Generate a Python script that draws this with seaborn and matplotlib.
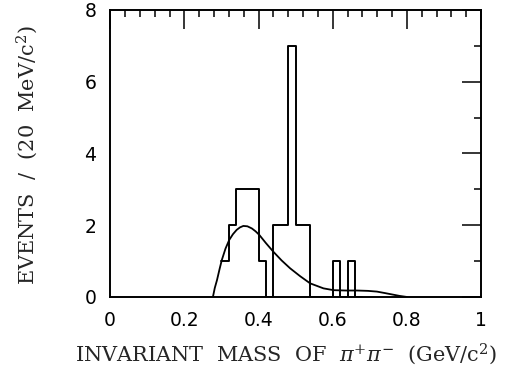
import numpy as np
import matplotlib
matplotlib.use("Agg")
import matplotlib.pyplot as plt
import seaborn as sns
from matplotlib.ticker import MultipleLocator, FuncFormatter

# histogram: centre of each 20 MeV bin and its event count
bin_center = [0.31, 0.33, 0.35, 0.37, 0.39, 0.41, 0.45, 0.47, 0.49, 0.51, 0.53, 0.61, 0.65]
counts = [1, 2, 3, 3, 3, 1, 2, 2, 7, 2, 2, 1, 1]

# smooth curve
curve_x = [0.277, 0.282, 0.288, 0.295, 0.301, 0.311, 0.321, 0.331, 0.341, 0.350, 0.359,
           0.370, 0.382, 0.392, 0.402, 0.420, 0.440, 0.462, 0.485, 0.512, 0.539,
           0.575, 0.602, 0.635, 0.665, 0.695, 0.719, 0.740, 0.755, 0.780, 0.800]
curve_y = [0.0, 0.25, 0.47, 0.78, 1.03, 1.35, 1.59, 1.75, 1.87, 1.94, 1.98,
           1.97, 1.91, 1.83, 1.73, 1.50, 1.26, 1.02, 0.80, 0.58, 0.38,
           0.24, 0.19, 0.18, 0.18, 0.17, 0.15, 0.11, 0.08, 0.03, 0.0]

sns.set_theme(style="white")
plt.rcParams["font.family"] = ["DejaVu Serif"]
plt.rcParams["mathtext.fontset"] = "dejavuserif"

fig = plt.figure(figsize=(5.27, 3.68), dpi=100)
ax = fig.add_axes([0.209, 0.193, 0.704, 0.780])

# extra empty bin at the end so the last step drops back to zero
sns.histplot(x=bin_center, weights=counts, binwidth=0.02, binrange=(0.30, 0.68),
             element="step", fill=False, color="black", linewidth=1.4, ax=ax)
sns.lineplot(x=curve_x, y=curve_y, color="black", linewidth=1.3, ax=ax)

ax.set_xlim(0, 1)
ax.set_ylim(0, 8)
ax.xaxis.set_major_locator(MultipleLocator(0.2))
ax.xaxis.set_minor_locator(MultipleLocator(0.04))
ax.yaxis.set_major_locator(MultipleLocator(2))
ax.yaxis.set_minor_locator(MultipleLocator(1))
ax.xaxis.set_major_formatter(FuncFormatter(lambda v, p: f"{v:.1f}".rstrip("0").rstrip(".")))
ax.tick_params(which="both", direction="in", top=True, right=True, colors="black")
ax.tick_params(which="major", length=14, width=1.1, labelsize=13.5, pad=10)
ax.tick_params(which="minor", length=5, width=1.1)
for lab in ax.get_xticklabels() + ax.get_yticklabels():
    lab.set_family("DejaVu Sans")

for s in ax.spines.values():
    s.set_color("black")
    s.set_linewidth(1.4)

ax.set_xlabel(r"INVARIANT  MASS  OF  $\pi^{+}\pi^{-}$  (GeV/c$^{2}$)", fontsize=15)
ax.set_ylabel(r"EVENTS  /  (20  MeV/c$^{2}$)", fontsize=15)
ax.xaxis.set_label_coords(0.474, -0.155)
ax.yaxis.set_label_coords(-0.19, 0.495)

fig.savefig("out.png", dpi=100)
